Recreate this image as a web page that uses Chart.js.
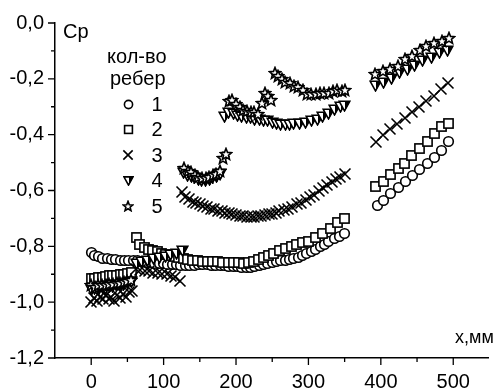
<!DOCTYPE html>
<html>
<head>
<meta charset="utf-8">
<script src="https://cdn.jsdelivr.net/npm/chart.js@4"></script>
<style>
  html, body { margin: 0; padding: 0; background: #fff; }
</style>
</head>
<body>
<canvas id="chart" width="494" height="390"></canvas>
<script>
// axis ticks
const xMajorTicks = [0, 100, 200, 300, 400, 500];
const xMinorTicks = [50, 150, 250, 350, 450];
const yMajorTicks = [-1.2, -1.0, -0.8, -0.6, -0.4, -0.2, 0.0];
const yMinorTicks = [-1.1, -0.9, -0.7, -0.5, -0.3, -0.1];

// 1 rib (circles)
const ribs1X = [0,5,10,16,22,28,34,40,46,52,58,64,70,76,82,88,94,100,106,112,118,124,130,136,142,148,154,160,166,172,
  178,184,190,196,202,208,214,220,226,232,238,244,250,256,262,268,274,280,286,292,298,304,310,316,322,328,336,343,350,
  395,404,414,424,434,444,454,464,474,484,494];
const ribs1Y = [-0.823,-0.832,-0.838,-0.842,-0.845,-0.847,-0.848,-0.85,-0.85,-0.85,-0.851,-0.852,-0.855,-0.857,-0.859,
  -0.861,-0.862,-0.863,-0.864,-0.865,-0.866,-0.867,-0.868,-0.868,-0.867,-0.866,-0.865,-0.866,-0.867,-0.868,
  -0.869,-0.87,-0.871,-0.872,-0.874,-0.875,-0.876,-0.876,-0.874,-0.87,-0.865,-0.86,-0.857,-0.855,-0.852,-0.85,
  -0.847,-0.844,-0.84,-0.834,-0.827,-0.818,-0.81,-0.8,-0.792,-0.781,-0.771,-0.763,-0.755,
  -0.655,-0.635,-0.612,-0.59,-0.567,-0.545,-0.525,-0.503,-0.48,-0.455,-0.425];

// 2 ribs (squares)
const ribs2X = [0,5,10,15,20,25,30,35,40,45,50,55,
  62,67,73,79,85,91,97,103,109,115,121,127,133,140,147,154,161,168,175,182,189,196,203,210,217,224,231,238,245,252,
  260,268,276,284,292,300,310,320,330,340,350,
  392,403,413,424,433,443,454,465,474,484,494];
const ribs2Y = [-0.915,-0.915,-0.912,-0.91,-0.908,-0.906,-0.905,-0.904,-0.902,-0.9,-0.899,-0.895,
  -0.77,-0.795,-0.805,-0.81,-0.815,-0.82,-0.825,-0.828,-0.832,-0.836,-0.84,-0.844,-0.848,-0.85,-0.852,-0.853,
  -0.854,-0.855,-0.856,-0.857,-0.858,-0.858,-0.859,-0.86,-0.858,-0.855,-0.848,-0.84,-0.832,-0.824,
  -0.816,-0.809,-0.802,-0.795,-0.788,-0.781,-0.77,-0.755,-0.735,-0.716,-0.70,
  -0.585,-0.567,-0.543,-0.52,-0.503,-0.474,-0.45,-0.425,-0.397,-0.372,-0.36];

// 3 ribs (crosses)
const ribs3X = [0,4,8,12,16,20,24,28,32,36,40,44,48,52,56,
  62,68,74,80,86,92,98,104,110,116,123,
  125,130,135,140,145,150,155,160,165,170,175,180,185,190,195,200,205,210,215,220,
  225,230,235,240,245,250,255,260,266,272,278,284,290,296,302,308,314,320,326,332,338,344,350,
  393,403,413,423,433,443,453,463,473,483,493];
const ribs3Y = [-1.0,-0.985,-0.995,-0.98,-0.99,-0.975,-0.99,-0.98,-0.995,-0.975,-0.985,-0.97,-0.98,-0.965,-0.96,
  -0.88,-0.885,-0.89,-0.89,-0.895,-0.895,-0.9,-0.9,-0.905,-0.91,-0.925,
  -0.605,-0.625,-0.63,-0.64,-0.645,-0.65,-0.655,-0.66,-0.665,-0.668,-0.672,-0.675,-0.68,-0.682,-0.685,-0.688,
  -0.69,-0.692,-0.695,-0.695,-0.695,-0.693,-0.69,-0.688,-0.685,-0.683,-0.68,-0.675,-0.67,-0.665,-0.66,-0.65,
  -0.645,-0.635,-0.625,-0.615,-0.60,-0.59,-0.58,-0.57,-0.56,-0.55,-0.54,
  -0.425,-0.40,-0.38,-0.36,-0.34,-0.32,-0.30,-0.28,-0.26,-0.235,-0.215];

// 4 ribs (half-filled triangles)
const ribs4X = [0,5,10,15,20,25,30,35,40,45,50,55,
  62,70,78,86,94,102,110,118,126,
  128,133,138,143,148,153,158,163,168,173,178,
  184,190,196,202,208,214,220,226,232,238,244,250,256,262,268,274,280,288,296,304,312,320,328,336,344,350,
  392,403,415,426,437,447,458,470,481,492];
const ribs4Y = [-0.955,-0.95,-0.955,-0.948,-0.95,-0.945,-0.945,-0.94,-0.94,-0.935,-0.93,-0.925,
  -0.86,-0.855,-0.85,-0.845,-0.84,-0.835,-0.83,-0.825,-0.815,
  -0.535,-0.545,-0.55,-0.555,-0.56,-0.565,-0.565,-0.56,-0.555,-0.55,-0.54,
  -0.335,-0.32,-0.325,-0.33,-0.335,-0.34,-0.34,-0.345,-0.345,-0.35,-0.35,-0.355,-0.36,-0.365,-0.365,-0.365,
  -0.36,-0.36,-0.355,-0.35,-0.345,-0.335,-0.325,-0.31,-0.30,-0.295,
  -0.225,-0.213,-0.20,-0.177,-0.166,-0.153,-0.136,-0.124,-0.106,-0.10];

// 5 ribs (stars)
const ribs5X = [0,5,10,15,20,25,30,35,40,45,50,55,
  128,133,138,143,148,153,158,163,168,173,178,182,186,
  190,195,200,205,210,215,220,225,230,236,240,244,248,
  254,258,263,268,274,280,286,292,298,304,310,316,322,328,334,340,346,351,
  392,403,413,424,433,443,454,463,474,484,494];
const ribs5Y = [-0.94,-0.945,-0.94,-0.938,-0.94,-0.935,-0.935,-0.932,-0.93,-0.928,-0.925,-0.92,
  -0.52,-0.53,-0.535,-0.545,-0.55,-0.555,-0.555,-0.55,-0.545,-0.54,-0.53,-0.485,-0.47,
  -0.28,-0.275,-0.29,-0.30,-0.31,-0.315,-0.32,-0.32,-0.325,-0.285,-0.25,-0.26,-0.275,
  -0.178,-0.19,-0.20,-0.21,-0.215,-0.225,-0.23,-0.24,-0.255,-0.255,-0.255,-0.25,-0.25,-0.25,-0.245,-0.24,-0.245,-0.24,
  -0.184,-0.171,-0.166,-0.153,-0.13,-0.118,-0.095,-0.083,-0.071,-0.065,-0.053];

const seriesLabels = ['1', '2', '3', '4', '5'];
const FONT = 'Arial, "Liberation Sans", sans-serif';

// marker images
function marker(size, scale, draw) {
  const c = document.createElement('canvas');
  c.width = size; c.height = size;
  const g = c.getContext('2d');
  g.strokeStyle = '#000';
  g.fillStyle = '#fff';
  g.lineWidth = 1.6;
  draw(g, size / 2, scale);
  return c;
}
function makeMarkers(k) {
  return [
    marker(Math.round(13 * k), k, (g, m, s) => {
      g.beginPath(); g.arc(m, m, 4.8 * s, 0, Math.PI * 2); g.fill(); g.stroke();
    }),
    marker(Math.round(13 * k), k, (g, m, s) => {
      const h = 4.6 * s;
      g.fillRect(m - h, m - h, 2 * h, 2 * h); g.strokeRect(m - h, m - h, 2 * h, 2 * h);
    }),
    marker(Math.round(14 * k), k, (g, m, s) => {
      const h = 5.5 * s;
      g.beginPath();
      g.moveTo(m - h, m - h); g.lineTo(m + h, m + h);
      g.moveTo(m + h, m - h); g.lineTo(m - h, m + h);
      g.stroke();
    }),
    marker(Math.round(13 * k), k, (g, m, s) => {
      const w = 5.4 * s, t = 4.3 * s, b = 5.4 * s;
      g.beginPath(); g.moveTo(m - w, m - t); g.lineTo(m + w, m - t); g.lineTo(m, m + b); g.closePath();
      g.fill(); g.stroke();
      g.fillStyle = '#000';
      g.beginPath(); g.moveTo(m + 0.5, m - t); g.lineTo(m + w, m - t); g.lineTo(m + 0.5, m + b); g.closePath(); g.fill();
    }),
    marker(Math.round(14 * k), k, (g, m, s) => {
      g.beginPath();
      for (let i = 0; i < 10; i++) {
        const r = (i % 2 === 0 ? 6.0 : 2.6) * s;
        const a = -Math.PI / 2 + i * Math.PI / 5;
        const px = m + r * Math.cos(a), py = m + 0.5 + r * Math.sin(a);
        if (i === 0) g.moveTo(px, py); else g.lineTo(px, py);
      }
      g.closePath(); g.fill(); g.stroke();
    })
  ];
}

const markers = makeMarkers(1);
const legendMarkers = makeMarkers(0.85);
const allX = [ribs1X, ribs2X, ribs3X, ribs4X, ribs5X];
const allY = [ribs1Y, ribs2Y, ribs3Y, ribs4Y, ribs5Y];

const datasets = seriesLabels.map((lab, i) => ({
  label: lab,
  data: allX[i].map((x, k) => ({ x: x, y: allY[i][k] })),
  showLine: false,
  pointStyle: markers[i],
  pointRadius: 5,
  order: 5 - i
}));

const fmtY = v => (Math.abs(v) < 1e-9 ? 0 : v).toFixed(1).replace('.', ',');

const crisp = {
  id: 'crisp',
  beforeDatasetsDraw(chart) { chart.ctx.imageSmoothingEnabled = false; },
  afterDatasetsDraw(chart) { chart.ctx.imageSmoothingEnabled = true; }
};

const decor = {
  id: 'decor',
  afterDraw(chart) {
    const ctx = chart.ctx;
    const xs = chart.scales.x, ys = chart.scales.y, a = chart.chartArea;
    ctx.save();
    ctx.strokeStyle = '#000';
    ctx.lineWidth = 1.3;
    ctx.beginPath();
    yMajorTicks.forEach(v => { const p = ys.getPixelForValue(v); ctx.moveTo(a.left, p); ctx.lineTo(a.left - 7, p); });
    yMinorTicks.forEach(v => { const p = ys.getPixelForValue(v); ctx.moveTo(a.left, p); ctx.lineTo(a.left - 4, p); });
    xMajorTicks.forEach(v => { const p = xs.getPixelForValue(v); ctx.moveTo(p, a.bottom); ctx.lineTo(p, a.bottom + 7); });
    xMinorTicks.forEach(v => { const p = xs.getPixelForValue(v); ctx.moveTo(p, a.bottom); ctx.lineTo(p, a.bottom + 4); });
    ctx.stroke();

    ctx.fillStyle = '#000';
    ctx.textBaseline = 'alphabetic';
    ctx.textAlign = 'left';
    ctx.font = '20px ' + FONT;
    ctx.fillText('Cp', 63, 38);
    ctx.fillText('кол-во', 107, 63);
    ctx.fillText('ребер', 110, 85);
    ctx.font = '18px ' + FONT;
    ctx.fillText('x,мм', 455, 343);

    // legend
    ctx.imageSmoothingEnabled = false;
    ctx.font = '20px ' + FONT;
    ctx.textAlign = 'center';
    ctx.textBaseline = 'middle';
    seriesLabels.forEach((lab, i) => {
      const cy = 104 + i * 25.5;
      const img = legendMarkers[i];
      ctx.drawImage(img, Math.round(128 - img.width / 2), Math.round(cy - img.height / 2));
      ctx.fillText(lab, 157, cy + 1);
    });
    ctx.restore();
  }
};

new Chart(document.getElementById('chart'), {
  type: 'scatter',
  data: { datasets: datasets },
  options: {
    responsive: false,
    animation: false,
    events: [],
    layout: { padding: { top: 20, right: 0, bottom: 0, left: 0 } },
    plugins: { legend: { display: false }, tooltip: { enabled: false } },
    scales: {
      x: {
        type: 'linear',
        min: -50,
        max: 548,
        grid: { display: false, drawTicks: false },
        border: { display: true, color: '#000', width: 1.5 },
        ticks: { color: '#000', font: { family: FONT, size: 20 }, padding: 12, maxRotation: 0 },
        afterBuildTicks: s => { s.ticks = xMajorTicks.map(v => ({ value: v })); },
        afterFit: s => { s.height = 32; }
      },
      y: {
        type: 'linear',
        min: -1.2,
        max: 0,
        grid: { display: false, drawTicks: false },
        border: { display: true, color: '#000', width: 1.5 },
        ticks: { color: '#000', font: { family: FONT, size: 20 }, padding: 11, callback: v => fmtY(v) },
        afterBuildTicks: s => { s.ticks = yMajorTicks.map(v => ({ value: v })); },
        afterFit: s => { s.width = 55; }
      }
    }
  },
  plugins: [crisp, decor]
});
</script>
</body>
</html>
